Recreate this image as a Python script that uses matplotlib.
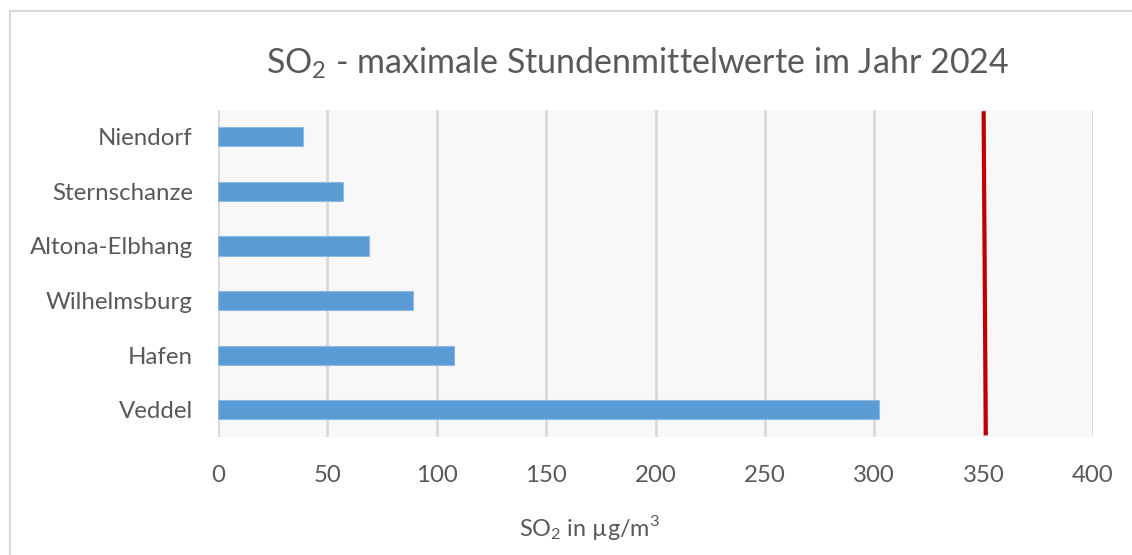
import matplotlib
matplotlib.use("Agg")
import matplotlib.pyplot as plt
from matplotlib.lines import Line2D

plt.rcParams['font.family'] = ['Lato', 'DejaVu Sans']
plt.rcParams['mathtext.fontset'] = 'custom'
plt.rcParams['mathtext.rm'] = 'Lato'

# Data
stations = ["Veddel", "Hafen", "Wilhelmsburg", "Altona-Elbhang", "Sternschanze", "Niendorf"]
values = [302, 108, 89, 69, 57, 39]
limit_x = [351, 350]
limit_y = [-0.43, 5.43]
xticks = [0, 50, 100, 150, 200, 250, 300, 350, 400]

W, H = 1132, 555
fig = plt.figure(figsize=(W / 100, H / 100), dpi=100)
fig.patch.set_facecolor('white')

# outer border
fig.add_artist(Line2D([10 / W, 10 / W], [1 - 11 / H, 0], transform=fig.transFigure,
                      color='#d9d9d9', lw=1.5))
fig.add_artist(Line2D([10 / W, 1], [1 - 11 / H, 1 - 11 / H], transform=fig.transFigure,
                      color='#d9d9d9', lw=1.5))

ax = fig.add_axes([218 / W, 1 - 437 / H, (1093 - 218) / W, (437 - 109.5) / H])
ax.set_facecolor('#f8f8f8')

ypos = list(range(len(stations)))
ax.barh(ypos, values, height=0.35, color='#5b9bd5', edgecolor='#8dbbe6', linewidth=0.8, zorder=3)
ax.plot(limit_x, limit_y, color='#c00000', lw=3, zorder=4)

ax.set_xlim(0, 400)
ax.set_ylim(-0.5, len(stations) - 0.5)
ax.set_xticks(xticks)
ax.set_yticks(ypos)
ax.set_yticklabels(stations)
ax.grid(axis='x', color='#d9d9d9', lw=2, zorder=1)
ax.set_axisbelow(True)
for s in ax.spines.values():
    s.set_visible(False)
ax.tick_params(axis='both', length=0, labelsize=17.3, labelcolor='#595959')
ax.tick_params(axis='y', pad=18)
ax.tick_params(axis='x', pad=20)

fig.text(638 / W, 1 - 63 / H, r"SO$_\mathregular{2}$ - maximale Stundenmittelwerte im Jahr 2024",
         ha='center', va='center', fontsize=24.5, color='#595959')
fig.text(590 / W, 1 - 527 / H, r"SO$_\mathregular{2}$ in µg/m$^\mathregular{3}$",
         ha='center', va='center', fontsize=16.9, color='#595959')

fig.savefig("out.png", dpi=100, facecolor='white')
